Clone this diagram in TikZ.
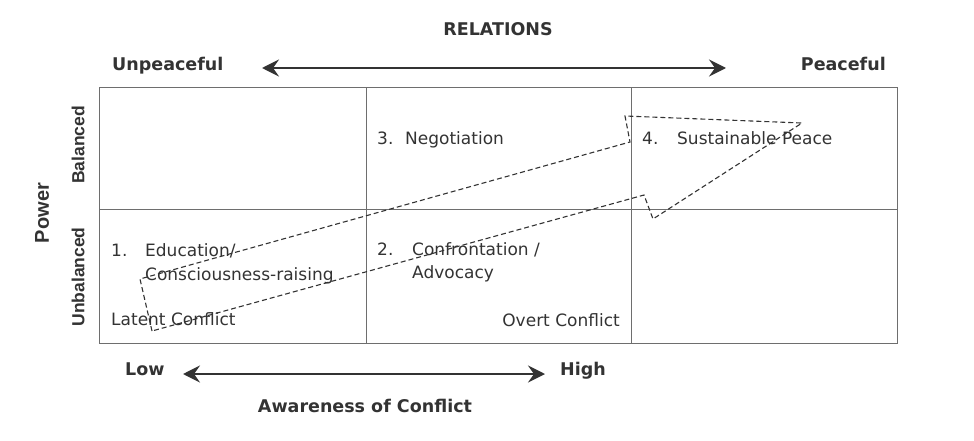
\documentclass[tikz,border=0pt]{standalone}
\usepackage{fontspec}
\setmainfont{DejaVu Sans}
\newfontfamily\axisfont{Liberation Sans}
\usetikzlibrary{arrows.meta}
\definecolor{ink}{HTML}{333333}
\definecolor{gridgray}{HTML}{6E6E6E}

\begin{document}
\begin{tikzpicture}[
    x=1pt, y=-1pt,
    cellbox/.style={anchor=base west, inner sep=0pt, text=ink,
                    font=\fontsize{17}{22}\selectfont},
    headlbl/.style={anchor=base, inner sep=0pt, text=ink,
                    font=\fontsize{17.5}{20}\selectfont\bfseries},
    sidelbl/.style={rotate=90, inner sep=0pt, text=ink,
                    font=\axisfont\fontsize{#1}{20}\selectfont\bfseries},
    dblarr/.style={{Stealth[length=17pt,width=17pt,inset=6pt]}-{Stealth[length=17pt,width=17pt,inset=6pt]},
                   line width=2.5pt, draw=ink},
    gridline/.style={draw=gridgray, line width=1pt},
    route/.style={draw=ink, dash pattern=on 5pt off 3pt, line width=1.1pt}
]
\useasboundingbox (0,0) rectangle (974,441);

\node[headlbl] (relations) at (498,36) {RELATIONS};
\node[headlbl, anchor=base west] (unpeace) at (112,71) {Unpeaceful};
\node[headlbl, anchor=base east] (peace) at (886,71) {Peaceful};
\coordinate (rel-w) at (262,68);
\coordinate (rel-e) at (726,68);
\draw[dblarr] (rel-w) -- (rel-e);

\node[sidelbl=20] (power) at (42,213) {Power};
\node[sidelbl=17.5] (balanced) at (78,145) {Balanced};
\node[sidelbl=17.5] (unbalanced) at (78,277) {Unbalanced};

\draw[gridline] (99,88) rectangle (897,343);
\draw[gridline] (366,88) -- (366,343) (631,88) -- (631,343) (99,209) -- (897,209);

\node[cellbox] (negotiation) at (377,144) {\makebox[28pt][l]{3.}Negotiation};
\node[cellbox] (sustain) at (642,144) {\makebox[35pt][l]{4.}Sustainable Peace};
\node[cellbox] (education) at (111,256) {\makebox[34pt][l]{1.}Education/};
\node[cellbox] (conscious) at (145,280) {Consciousness-raising};
\node[cellbox] (confront) at (377,255) {\makebox[35pt][l]{2.}Confrontation /};
\node[cellbox] (advocacy) at (412,278) {Advocacy};
\node[cellbox] (latent) at (111,325) {Latent Conflict};
\node[cellbox, anchor=base east] (overt) at (620,326) {Overt Conflict};

\draw[route] (152,331) -- (140,279) -- (630,142) -- (625,116) -- (802,123)
    -- (653,219) -- (644,195) -- cycle;

\node[headlbl, anchor=base west] (low) at (125,375) {Low};
\node[headlbl, anchor=base west] (high) at (560,375) {High};
\coordinate (aw-w) at (183,374);
\coordinate (aw-e) at (545,374);
\draw[dblarr] (aw-w) -- (aw-e);
\node[headlbl] (awareness) at (365,412) {Awareness of Conflict};
\end{tikzpicture}
\end{document}
